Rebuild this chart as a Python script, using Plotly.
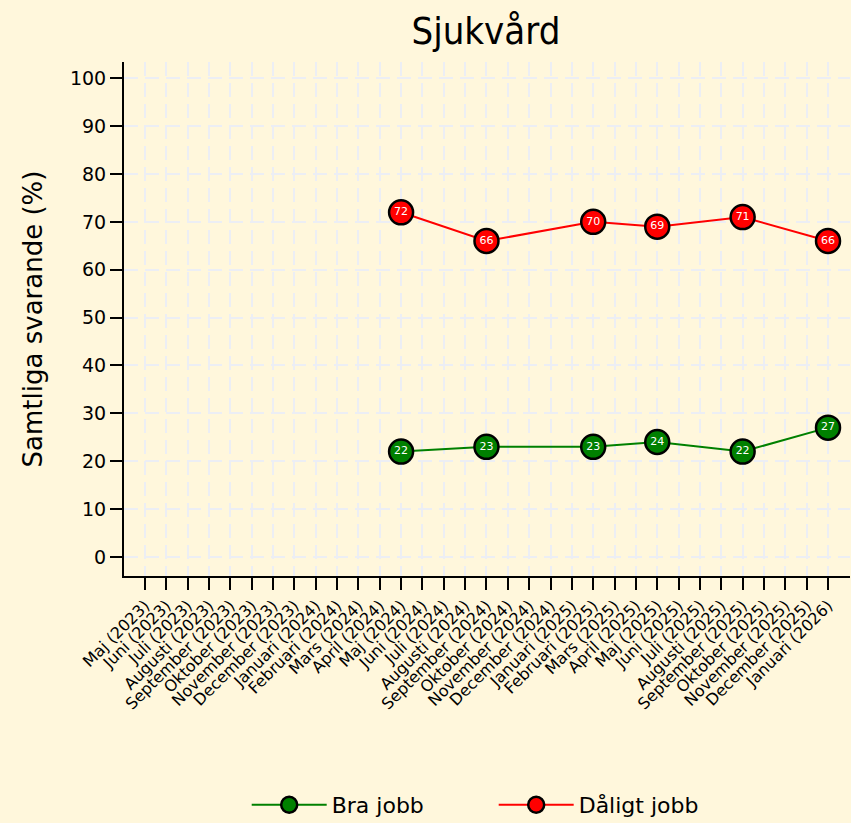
import plotly.graph_objects as go

months = ["Maj (2023)", "Juni (2023)", "Juli (2023)", "Augusti (2023)", "September (2023)",
          "Oktober (2023)", "November (2023)", "December (2023)",
          "Januari (2024)", "Februari (2024)", "Mars (2024)", "April (2024)", "Maj (2024)",
          "Juni (2024)", "Juli (2024)", "Augusti (2024)", "September (2024)", "Oktober (2024)",
          "November (2024)", "December (2024)",
          "Januari (2025)", "Februari (2025)", "Mars (2025)", "April (2025)", "Maj (2025)",
          "Juni (2025)", "Juli (2025)", "Augusti (2025)", "September (2025)", "Oktober (2025)",
          "November (2025)", "December (2025)", "Januari (2026)"]

survey_months = ["Maj (2024)", "September (2024)", "Februari (2025)", "Maj (2025)",
                 "September (2025)", "Januari (2026)"]
bra_jobb = [22, 23, 23, 24, 22, 27]
daligt_jobb = [72, 66, 70, 69, 71, 66]

y_ticks = [0, 10, 20, 30, 40, 50, 60, 70, 80, 90, 100]

bg = "#FFF7DC"
font_main = "DejaVu Sans, sans-serif"
grid_col = "#ECEEF4"

fig = go.Figure()
for name, vals, col in [("Bra jobb", bra_jobb, "#008000"), ("Dåligt jobb", daligt_jobb, "#FF0000")]:
    fig.add_trace(go.Scatter(
        x=survey_months, y=vals, name=name,
        mode="lines+markers+text",
        text=[str(v) for v in vals], textposition="middle center",
        textfont=dict(color="white", size=11, family=font_main),
        line=dict(color=col, width=2),
        marker=dict(color=col, size=24, line=dict(color="black", width=2.5)),
        connectgaps=True,
    ))

fig.update_layout(
    width=851, height=823,
    paper_bgcolor=bg, plot_bgcolor=bg,
    margin=dict(l=124, r=1, t=62, b=247, autoexpand=False),
    title=dict(text="Sjukvård", x=0.571, xanchor="center", y=0.963, yanchor="middle",
               font=dict(family="DejaVu Sans Condensed, Liberation Sans Narrow, DejaVu Sans, sans-serif",
                         size=38, color="black")),
    font=dict(family=font_main, color="black"),
    showlegend=True,
    legend=dict(orientation="h", x=0.169, xanchor="left", yref="container", y=0.022,
                yanchor="middle",
                font=dict(size=22, family=font_main), itemwidth=75,
                entrywidth=157, entrywidthmode="pixels", bgcolor="rgba(0,0,0,0)"),
    xaxis=dict(type="category", categoryorder="array", categoryarray=months,
               tickmode="array", tickvals=months, ticktext=months,
               range=[-0.98, 33.03], tickangle=-45, tickfont=dict(size=16),
               ticks="outside", ticklen=12, tickwidth=2, tickcolor="black",
               showline=True, linecolor="black", linewidth=2,
               showgrid=True, gridcolor=grid_col, gridwidth=2, griddash="14px,7px",
               zeroline=False),
    yaxis=dict(range=[-4, 103.4], tickvals=y_ticks, tickfont=dict(size=19),
               title=dict(text="Samtliga svarande (%)", font=dict(size=26), standoff=20),
               ticks="outside", ticklen=12, tickwidth=2, tickcolor="black",
               showline=True, linecolor="black", linewidth=2,
               showgrid=True, gridcolor=grid_col, gridwidth=2, griddash="14px,7px",
               zeroline=False),
)

fig.write_html("out.html", config={"displayModeBar": False},
               post_script="document.body.style.margin='0';")
